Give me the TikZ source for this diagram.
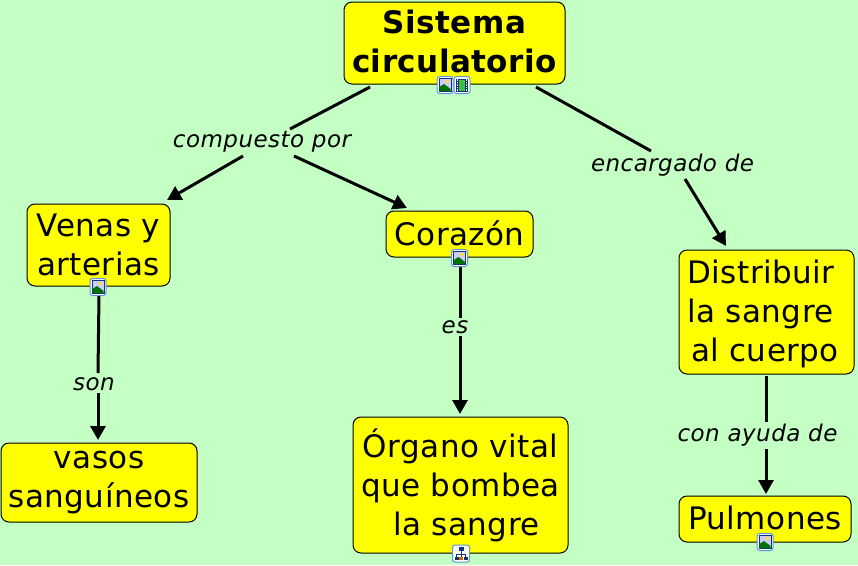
\documentclass[tikz,border=0pt]{standalone}
\usepackage{fontspec}
\setmainfont{DejaVu Sans}
\usetikzlibrary{arrows.meta}
\definecolor{bgc}{RGB}{196,255,196}
\definecolor{boxy}{RGB}{255,255,0}
\definecolor{iconedge}{RGB}{90,150,225}
\definecolor{icondark}{RGB}{20,50,120}
\newcommand\ltop[1][31]{\rule{0pt}{#1pt}}
\newcommand\lbot[1]{\rule[-#1pt]{0pt}{#1pt}}
\newcommand\tailgap[1]{\rule{#1pt}{0pt}}
\tikzset{
  concept/.style={draw=black,line width=1pt,fill=boxy,rounded corners=8pt,inner sep=0pt,align=center,text=black,font=\fontsize{31}{39}\selectfont\addfontfeatures{LetterSpace=1.5}},
  linklabel/.style={inner sep=0pt,text=black,text height=20pt,text depth=4pt,font=\fontsize{23}{26}\selectfont\itshape\addfontfeatures{LetterSpace=2}},
  link/.style={draw=black,line width=3pt},
  linkarrow/.style={link,-{Triangle[length=14pt,width=15pt]}},
  frameicon/.style={draw=iconedge,line width=1pt,fill=white,rounded corners=2.5pt},
  imgicon/.pic={
    \path[frameicon] (-8,-8.5) rectangle (8,8.5);
    \draw[icondark,line width=.8pt,fill=white!80!blue] (-6,-6.5) rectangle (6,6.5);
    \fill[green!45!black] (-5.6,6.1) -- (-5.6,2) -- (-1,-1) -- (5.6,4) -- (5.6,6.1) -- cycle;
    \fill[yellow!90!orange] (2.5,-3.5) circle (1.8);
  },
  filmicon/.pic={
    \path[frameicon] (-8,-8.5) rectangle (8,8.5);
    \fill[icondark] (-6,-6.5) rectangle (6,6.5);
    \fill[green!50!gray] (-3,-5.5) rectangle (3,5.5);
    \foreach \yy in {-5,-2.5,0,2.5,5} {
      \fill[white] (-5,\yy-.6) rectangle (-4,\yy+.6);
      \fill[white] (4,\yy-.6) rectangle (5,\yy+.6);
    }
  },
  treeicon/.pic={
    \path[frameicon] (-8.5,-8.5) rectangle (8.5,8.5);
    \draw[icondark,line width=.8pt] (0,-3) -- (0,3) (-4.5,3.5) -- (-4.5,1) -- (4.5,1) -- (4.5,3.5);
    \fill[icondark] (-2.5,-6.5) rectangle (2.5,-2.5);
    \fill[icondark] (-6.5,3) rectangle (-2.5,6.5);
    \fill[orange!80!black] (-1.7,3) rectangle (1.7,6.5);
    \fill[icondark] (2.5,3) rectangle (6.5,6.5);
  }
}
\begin{document}
\begin{tikzpicture}[x=1pt,y=-1pt]
\useasboundingbox (0,0) rectangle (858,565);
\fill[bgc] (0,0) rectangle (858,565);

\node[concept,minimum width=221pt,minimum height=82pt] (sis) at (454.5,43) {\bfseries\ltop{}Sistema\\\bfseries circulatorio\lbot{11}};
\node[concept,minimum width=143pt,minimum height=82pt] (venas) at (98.5,245) {\ltop{}Venas y\\arterias\lbot{10}};
\node[concept,minimum width=147pt,minimum height=46pt] (cor) at (459.5,234) {\ltop{}Corazón\lbot{9}};
\node[concept,minimum width=175pt,minimum height=124pt] (dist) at (766.5,312) {\ltop{}Distribuir\tailgap{11}\\la sangre\tailgap{12}\\al cuerpo\tailgap{3}\lbot{11}};
\node[concept,minimum width=215pt,minimum height=136pt] (org) at (460.5,485) {\ltop{}Órgano vital\\que bombea\\\tailgap{12}la sangre\lbot{8}};
\node[concept,minimum width=196pt,minimum height=79pt] (vasos) at (99,482.5) {\ltop[24]{}vasos\\sanguíneos\lbot{13}};
\node[concept,minimum width=172pt,minimum height=46pt] (pulm) at (765,519) {\ltop{}Pulmones\lbot{11}};

\node[linklabel] (lab1) at (262,139) {compuesto por};
\node[linklabel] (lab2) at (672.5,163) {encargado de};
\node[linklabel] (son) at (94,382) {son};
\node[linklabel] (es) at (455,325) {es};
\node[linklabel] (ayuda) at (757.5,433) {con ayuda de};

\draw[link] ([shift={(-84.5,44)}]sis.center) -- ([shift={(28,-10)}]lab1.center);
\draw[linkarrow] ([shift={(-19,17)}]lab1.center) -- ([shift={(68.5,-45)}]venas.center);
\draw[linkarrow] ([shift={(32,17)}]lab1.center) -- ([shift={(-52.5,-26)}]cor.center);
\draw[link] ([shift={(81.5,44)}]sis.center) -- ([shift={(-21.5,-12)}]lab2.center);
\draw[linkarrow] ([shift={(12.5,16)}]lab2.center) -- ([shift={(-40.5,-66)}]dist.center);
\draw[link] ([shift={(0.5,50)}]venas.center) -- ([shift={(4,-9)}]son.center);
\draw[linkarrow] ([shift={(4,11)}]son.center) -- ([shift={(-1,-42.5)}]vasos.center);
\draw[link] ([shift={(0.5,33)}]cor.center) -- ([shift={(5,-7)}]es.center);
\draw[linkarrow] ([shift={(5,11)}]es.center) -- ([shift={(-0.5,-71)}]org.center);
\draw[link] ([shift={(-0.5,64)}]dist.center) -- ([shift={(8.5,-11)}]ayuda.center);
\draw[linkarrow] ([shift={(8.5,16)}]ayuda.center) -- ([shift={(1,-25)}]pulm.center);

\pic at (445,85) {imgicon};
\pic at (462,85) {filmicon};
\pic at (98,287) {imgicon};
\pic at (459.5,258) {imgicon};
\pic at (461,553.5) {treeicon};
\pic at (765,542) {imgicon};
\end{tikzpicture}
\end{document}
